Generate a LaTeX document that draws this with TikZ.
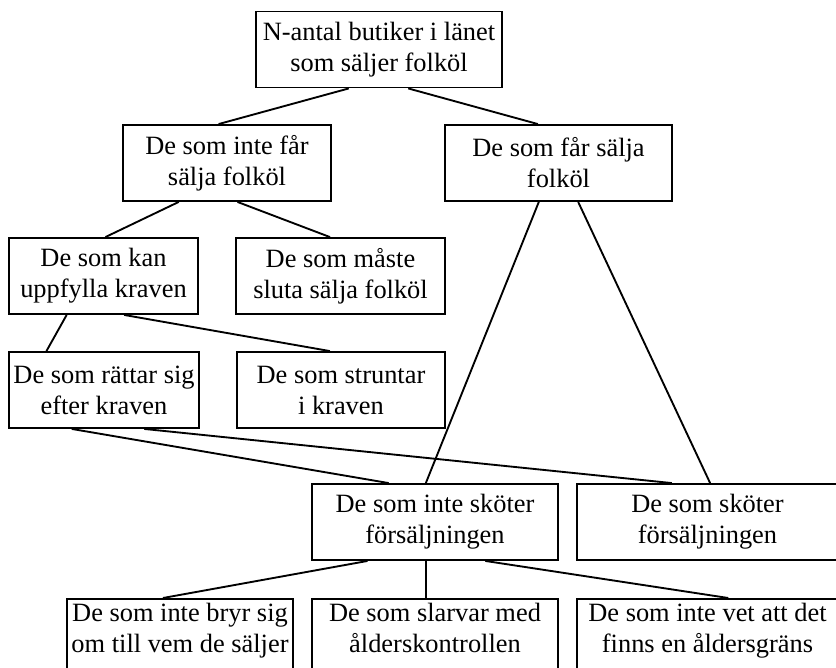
\documentclass[tikz,border=0pt]{standalone}
\usepackage{fontspec}
\setmainfont{Liberation Serif}
\usepackage{tikz}
\usetikzlibrary{calc}

\begin{document}
\begin{tikzpicture}[x=0.75pt, y=-0.75pt, line width=1.4pt]
 	  \tikzstyle{box}=[draw, rectangle, align=center, inner sep=2pt, minimum height=57pt, font=\fontsize{19.8}{23.25}\selectfont]
 	  \tikzstyle{lowbox}=[box, minimum height=0pt, anchor=north, inner ysep=3pt, text depth=40pt]
\useasboundingbox (0,0) rectangle (836,668);
    \node[box, minimum width=184.5pt] (total) at (379,49.5) {N-antal butiker i länet\\som säljer folköl};
    \node[box, minimum width=156pt] (notallowed) at (227,163) {De som inte får\\sälja folköl};
    \node[box, minimum width=170.25pt] (allowed) at (558.5,163) {De som får sälja\\folköl};
    \node[box, minimum width=141.75pt] (canmeet) at (103.5,276) {De som kan\\uppfylla kraven};
    \node[box, minimum width=156.75pt] (muststop) at (340.5,276) {De som måste\\sluta sälja folköl};
    \node[box, minimum width=142.5pt] (follows) at (104,390) {De som rättar sig\\efter kraven};
    \node[box, minimum width=156pt] (ignores) at (341,390) {De som struntar\\i kraven};
    \node[box, minimum width=184.5pt] (badsale) at (435,522) {De som inte sköter\\försäljningen};
    \node[box, minimum width=195.75pt] (goodsale) at (707.5,522) {De som sköter\\försäljningen};
    \node[lowbox, minimum width=169.5pt] (nocare) at (180,598) {De som inte bryr sig\\om till vem de säljer};
    \node[lowbox, minimum width=184.5pt] (sloppy) at (435,598) {De som slarvar med\\ålderskontrollen};
    \node[lowbox, minimum width=195.75pt] (unaware) at (707.5,598) {De som inte vet att det\\finns en åldersgräns};
\foreach \a/\fa/\b/\fb in {total/0.378/notallowed/0.46, total/0.618/allowed/0.41,
      notallowed/0.27/canmeet/0.51, notallowed/0.55/muststop/0.45,
      allowed/0.414/badsale/0.463, allowed/0.586/goodsale/0.51,
      canmeet/0.307/follows/0.2, canmeet/0.608/ignores/0.447,
      follows/0.332/badsale/0.313, follows/0.71/goodsale/0.364,
      badsale/0.228/nocare/0.425, badsale/0.463/sloppy/0.463, badsale/0.703/unaware/0.579}{
    \draw ($(\a.south west)!\fa!(\a.south east)$) -- ($(\b.north west)!\fb!(\b.north east)$);
      }
   \end{tikzpicture}
\end{document}
